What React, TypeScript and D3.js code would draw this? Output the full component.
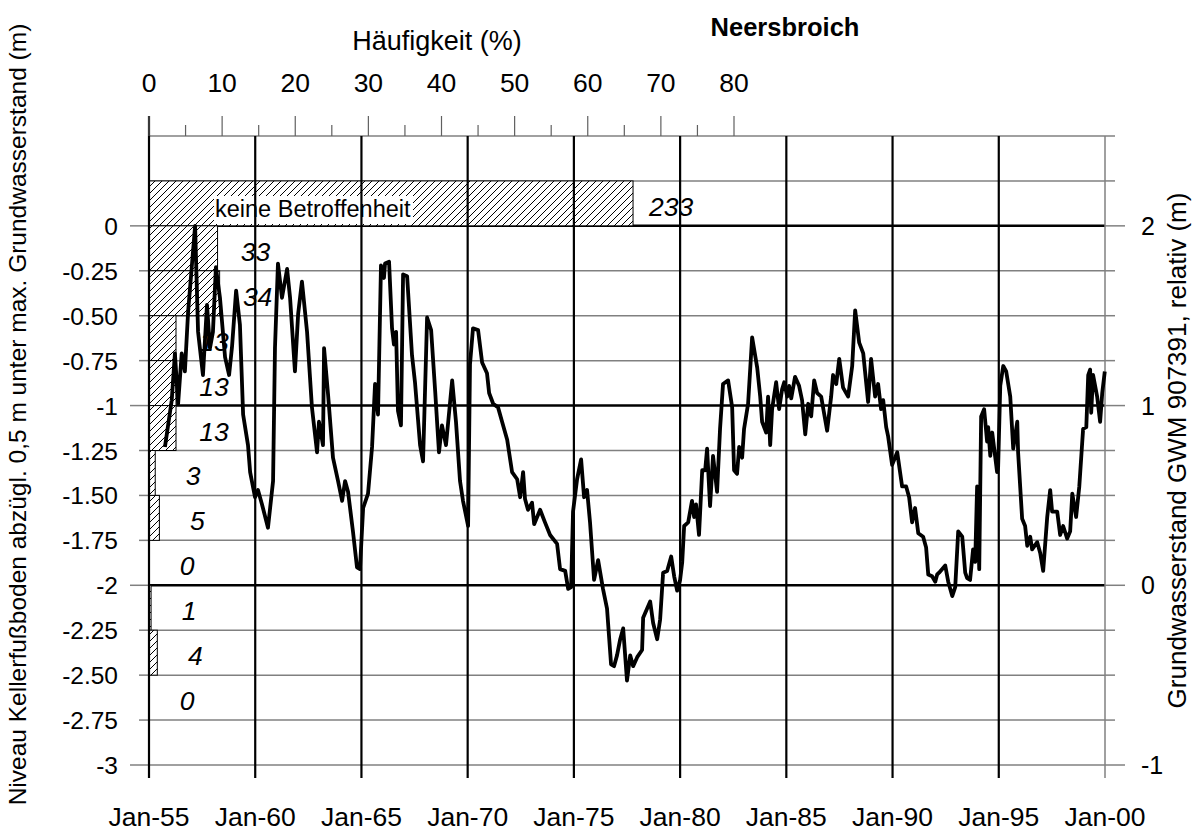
import React from 'react'
import * as d3 from 'd3'

// Grundwasserstand GWM 907391, relativ (m) (decimal years)
const years = [
  1955.75, 1956.07, 1956.22, 1956.37, 1956.54, 1956.69, 1956.84, 1957.17, 1957.31, 1957.54,
  1957.73, 1957.87, 1958.01, 1958.15, 1958.34, 1958.58, 1958.77, 1958.91, 1959.10, 1959.28,
  1959.43, 1959.66, 1959.76, 1959.99, 1960.13, 1960.32, 1960.60, 1960.84, 1960.93, 1961.07,
  1961.26, 1961.50, 1961.64, 1961.87, 1962.02, 1962.20, 1962.44, 1962.67, 1962.91, 1963.00,
  1963.19, 1963.24, 1963.43, 1963.66, 1963.90, 1964.09, 1964.23, 1964.37, 1964.60, 1964.79,
  1964.93, 1965.08, 1965.31, 1965.50, 1965.64, 1965.78, 1965.92, 1966.06, 1966.11, 1966.30,
  1966.44, 1966.53, 1966.63, 1966.72, 1966.86, 1966.96, 1967.15, 1967.38, 1967.52, 1967.76,
  1967.90, 1968.09, 1968.28, 1968.47, 1968.65, 1968.79, 1968.98, 1969.27, 1969.45, 1969.64,
  1969.78, 1970.02, 1970.11, 1970.25, 1970.49, 1970.68, 1970.91, 1971.01, 1971.20, 1971.43,
  1971.62, 1971.86, 1972.09, 1972.33, 1972.47, 1972.61, 1972.70, 1972.84, 1973.03, 1973.13,
  1973.41, 1973.64, 1973.88, 1974.21, 1974.35, 1974.59, 1974.73, 1974.87, 1974.96, 1975.15,
  1975.34, 1975.48, 1975.62, 1975.76, 1975.95, 1976.14, 1976.37, 1976.56, 1976.75, 1976.89,
  1977.03, 1977.18, 1977.32, 1977.50, 1977.65, 1977.79, 1977.98, 1978.21, 1978.26, 1978.59,
  1978.73, 1978.92, 1979.06, 1979.20, 1979.39, 1979.58, 1979.72, 1979.86, 1980.00, 1980.10,
  1980.19, 1980.38, 1980.56, 1980.66, 1980.75, 1980.89, 1981.04, 1981.18, 1981.27, 1981.41,
  1981.55, 1981.74, 1981.88, 1982.02, 1982.26, 1982.45, 1982.54, 1982.68, 1982.78, 1982.92,
  1983.01, 1983.20, 1983.39, 1983.63, 1983.77, 1983.86, 1984.05, 1984.14, 1984.24, 1984.33,
  1984.52, 1984.66, 1984.80, 1984.90, 1985.04, 1985.13, 1985.23, 1985.41, 1985.60, 1985.74,
  1985.89, 1986.03, 1986.17, 1986.31, 1986.45, 1986.64, 1986.92, 1987.11, 1987.20, 1987.35,
  1987.49, 1987.67, 1987.91, 1988.10, 1988.24, 1988.43, 1988.62, 1988.85, 1988.99, 1989.18,
  1989.32, 1989.46, 1989.56, 1989.70, 1989.79, 1989.98, 1990.22, 1990.45, 1990.64, 1990.78,
  1990.92, 1991.06, 1991.21, 1991.44, 1991.58, 1991.68, 1991.86, 1992.01, 1992.10, 1992.19,
  1992.48, 1992.62, 1992.81, 1992.95, 1993.09, 1993.28, 1993.42, 1993.51, 1993.65, 1993.79,
  1993.89, 1993.98, 1994.08, 1994.17, 1994.31, 1994.45, 1994.50, 1994.60, 1994.69, 1994.92,
  1994.97, 1995.07, 1995.21, 1995.35, 1995.54, 1995.68, 1995.87, 1995.91, 1996.10, 1996.24,
  1996.34, 1996.48, 1996.57, 1996.81, 1996.95, 1997.09, 1997.28, 1997.42, 1997.51, 1997.75,
  1997.89, 1998.03, 1998.22, 1998.36, 1998.46, 1998.64, 1998.79, 1998.97, 1999.12, 1999.21,
  1999.30, 1999.35, 1999.44, 1999.63, 1999.77, 1999.87, 1999.99,
]
const levels = [
  0.77, 1.03, 1.29, 1.01, 1.29, 1.19, 1.52, 2.0, 1.41, 1.17,
  1.56, 1.32, 1.41, 1.77, 1.60, 1.27, 1.17, 1.33, 1.64, 1.45,
  0.95, 0.78, 0.63, 0.49, 0.53, 0.45, 0.32, 0.58, 1.32, 1.79,
  1.60, 1.76, 1.60, 1.19, 1.51, 1.69, 1.41, 0.99, 0.74, 0.91,
  0.78, 1.32, 1.06, 0.71, 0.58, 0.47, 0.58, 0.52, 0.30, 0.10,
  0.09, 0.43, 0.51, 0.77, 1.12, 0.95, 1.78, 1.71, 1.79, 1.80,
  1.43, 1.34, 1.41, 0.97, 0.89, 1.73, 1.72, 1.28, 1.13, 0.78,
  0.69, 1.49, 1.42, 1.08, 0.74, 0.89, 0.78, 1.14, 0.91, 0.58,
  0.47, 0.33, 1.23, 1.43, 1.42, 1.24, 1.18, 1.07, 1.01, 0.99,
  0.91, 0.81, 0.63, 0.59, 0.49, 0.63, 0.48, 0.42, 0.46, 0.34,
  0.42, 0.35, 0.28, 0.23, 0.09, 0.08, -0.02, -0.01, 0.41, 0.59,
  0.70, 0.49, 0.53, 0.35, 0.03, 0.14, -0.02, -0.13, -0.44, -0.45,
  -0.39, -0.30, -0.24, -0.53, -0.39, -0.45, -0.40, -0.36, -0.18, -0.09,
  -0.21, -0.30, -0.19, 0.07, 0.08, 0.16, 0.05, -0.03, 0.03, 0.13,
  0.33, 0.35, 0.47, 0.38, 0.45, 0.28, 0.64, 0.64, 0.76, 0.44,
  0.72, 0.52, 0.87, 1.12, 1.14, 0.99, 0.64, 0.62, 0.77, 0.71,
  0.87, 1.01, 1.38, 1.21, 1.05, 0.91, 0.85, 1.05, 0.78, 0.98,
  1.13, 0.98, 1.09, 1.13, 1.05, 1.11, 1.04, 1.16, 1.11, 1.03,
  0.84, 1.01, 0.94, 1.14, 1.07, 1.05, 0.86, 1.05, 1.17, 1.12,
  1.26, 1.10, 1.05, 1.22, 1.53, 1.35, 1.29, 1.02, 1.26, 1.05,
  1.12, 0.98, 1.03, 0.88, 0.83, 0.67, 0.74, 0.55, 0.55, 0.49,
  0.35, 0.43, 0.29, 0.27, 0.21, 0.06, 0.05, 0.02, 0.06, 0.07,
  0.11, 0.02, -0.06, -0.01, 0.30, 0.27, 0.07, 0.04, 0.03, 0.20,
  0.13, 0.55, 0.09, 0.94, 0.98, 0.80, 0.88, 0.72, 0.85, 0.63,
  0.66, 1.11, 1.22, 1.19, 1.05, 0.76, 0.91, 0.74, 0.37, 0.33,
  0.22, 0.27, 0.20, 0.24, 0.18, 0.08, 0.38, 0.53, 0.41, 0.41,
  0.28, 0.33, 0.26, 0.30, 0.51, 0.38, 0.55, 0.87, 0.88, 1.17,
  1.20, 0.96, 1.17, 1.05, 0.91, 1.07, 1.19,
]

// Häufigkeit: count of cellars per 0.25 m band (top edge of band, left axis)
const bandTops = [0.25, 0, -0.25, -0.5, -0.75, -1, -1.25, -1.5, -1.75, -2, -2.25, -2.5]
const bandCounts = [233, 33, 34, 13, 13, 13, 3, 5, 0, 1, 4, 0]

const leftTicks = [0, -0.25, -0.5, -0.75, -1, -1.25, -1.5, -1.75, -2, -2.25, -2.5, -2.75, -3]
const leftTickLabels = ['0', '-0.25', '-0.50', '-0.75', '-1', '-1.25', '-1.50', '-1.75', '-2', '-2.25', '-2.50', '-2.75', '-3']
const rightTicks = [2, 1, 0, -1]
const pctTicks = [0, 10, 20, 30, 40, 50, 60, 70, 80]
const yearTicks = [1955, 1960, 1965, 1970, 1975, 1980, 1985, 1990, 1995, 2000]
const yearLabels = ['Jan-55', 'Jan-60', 'Jan-65', 'Jan-70', 'Jan-75', 'Jan-80', 'Jan-85', 'Jan-90', 'Jan-95', 'Jan-00']

const FONT = '"Liberation Sans", Arial, sans-serif'

export default function App() {
  const W = 1199, H = 832
  const left = 149, right = 1105, top = 136, bottom = 765

  const x = d3.scaleLinear().domain([1955, 2000]).range([left, right])
  const yL = d3.scaleLinear().domain([-3, 0.5]).range([bottom, top])
  const yR = d3.scaleLinear().domain([-1, 2.5]).range([bottom, top])
  const xPct = d3.scaleLinear().domain([0, 80]).range([left, 734])
  const total = d3.sum(bandCounts)

  const grid = d3.range(-3, 0.51, 0.25)
  const rightMinor = d3.range(-1, 2.51, 0.25)
  const pctMinor = d3.range(0, 81, 5)

  const line = d3.line<number>()
    .x((d, i) => x(years[i]))
    .y(d => yR(d))

  return (
    <div style={{ position: 'absolute', left: 0, top: 0 }}>
      <svg width={W} height={H} style={{ display: 'block', background: 'white' }} fontFamily={FONT}>
        <defs>
          <pattern id="hatch" patternUnits="userSpaceOnUse" width="7" height="7">
            <rect width="7" height="7" fill="white" />
            <path d="M-1,1 l2,-2 M0,7 l7,-7 M6,8 l2,-2" stroke="black" strokeWidth="1" />
          </pattern>
        </defs>

        {/* horizontal grid */}
        {grid.map(v => {
          const major = Math.abs(v - Math.round(v)) < 1e-6 && v > -3 && v < 0.5
          return (
            <line key={'g' + v} x1={left} x2={right} y1={yL(v)} y2={yL(v)}
              stroke={major ? 'black' : '#808080'} strokeWidth={major ? 2.5 : 1.5} />
          )
        })}

        {/* left axis ticks */}
        {leftTicks.map((v, i) => {
          const major = Math.abs(v - Math.round(v)) < 1e-6
          return (
            <g key={'lt' + v}>
              <line x1={major ? 130 : 139} x2={left} y1={yL(v)} y2={yL(v)} stroke="#808080" strokeWidth={1.5} />
              <text x={118} y={yL(v) + 9} textAnchor="end" fontSize={24.5}>{leftTickLabels[i]}</text>
            </g>
          )
        })}

        {/* right axis ticks */}
        {rightMinor.map(v => {
          const major = Math.abs(v - Math.round(v)) < 1e-6
          return (
            <line key={'rt' + v} x1={right} x2={major ? 1125 : 1115} y1={yR(v)} y2={yR(v)} stroke="#808080" strokeWidth={1.5} />
          )
        })}
        {rightTicks.map(v => (
          <text key={'rl' + v} x={1141} y={yR(v) + 9} fontSize={25}>{v}</text>
        ))}

        {/* frequency bars */}
        {bandCounts.map((c, i) => {
          const w = xPct((c / total) * 100) - left
          return w > 0 ? (
            <rect key={'b' + i} x={left} y={yL(bandTops[i])} width={w} height={yL(bandTops[i] - 0.25) - yL(bandTops[i])}
              fill="url(#hatch)" stroke="black" strokeWidth={1} />
          ) : null
        })}
        <rect x={214} y={196} width={199} height={28} fill="white" />
        <text x={215} y={217} fontSize={23.5}>keine Betroffenheit</text>
        {bandCounts.map((c, i) => (
          <text key={'bl' + i} x={xPct((c / total) * 100) + 38} y={yL(bandTops[i] - 0.125) + 12.5}
            textAnchor="middle" fontSize={26.5} fontStyle="italic">{c}</text>
        ))}

        {/* vertical grid + bottom axis */}
        {yearTicks.map((t, i) => (
          <g key={'v' + t}>
            <line x1={x(t)} x2={x(t)} y1={top} y2={778}
              stroke={t === 2000 ? '#808080' : 'black'} strokeWidth={t === 2000 ? 1.5 : 2.2} />
            <text x={x(t)} y={826} textAnchor="middle" fontSize={26.5}>{yearLabels[i]}</text>
          </g>
        ))}
        <line x1={left} x2={left} y1={116} y2={top} stroke="black" strokeWidth={2.2} />

        {/* top axis: Häufigkeit */}
        {pctMinor.map(p => (
          <line key={'pt' + p} x1={xPct(p)} x2={xPct(p)} y1={p % 10 === 0 ? 116 : 125} y2={top}
            stroke="#606060" strokeWidth={1.2} />
        ))}
        {pctTicks.map(p => (
          <text key={'pl' + p} x={xPct(p)} y={92} textAnchor="middle" fontSize={26.5}>{p}</text>
        ))}
        <text x={437} y={50} textAnchor="middle" fontSize={27}>Häufigkeit (%)</text>
        <text x={785} y={36} textAnchor="middle" fontSize={25.5} fontWeight="bold">Neersbroich</text>

        {/* groundwater line */}
        <path d={line(levels) || ''} fill="none" stroke="black" strokeWidth={3.8} strokeLinejoin="round" />

        {/* axis titles */}
        <text transform={`translate(26,${(top + bottom) / 2 - 36}) rotate(-90)`} textAnchor="middle" fontSize={24.5}>
          Niveau Kellerfußboden abzügl. 0,5 m unter max. Grundwasserstand (m)
        </text>
        <text transform={`translate(1186,${(top + bottom) / 2}) rotate(-90)`} textAnchor="middle" fontSize={26}>
          Grundwasserstand GWM 907391, relativ (m)
        </text>
      </svg>
    </div>
  )
}
